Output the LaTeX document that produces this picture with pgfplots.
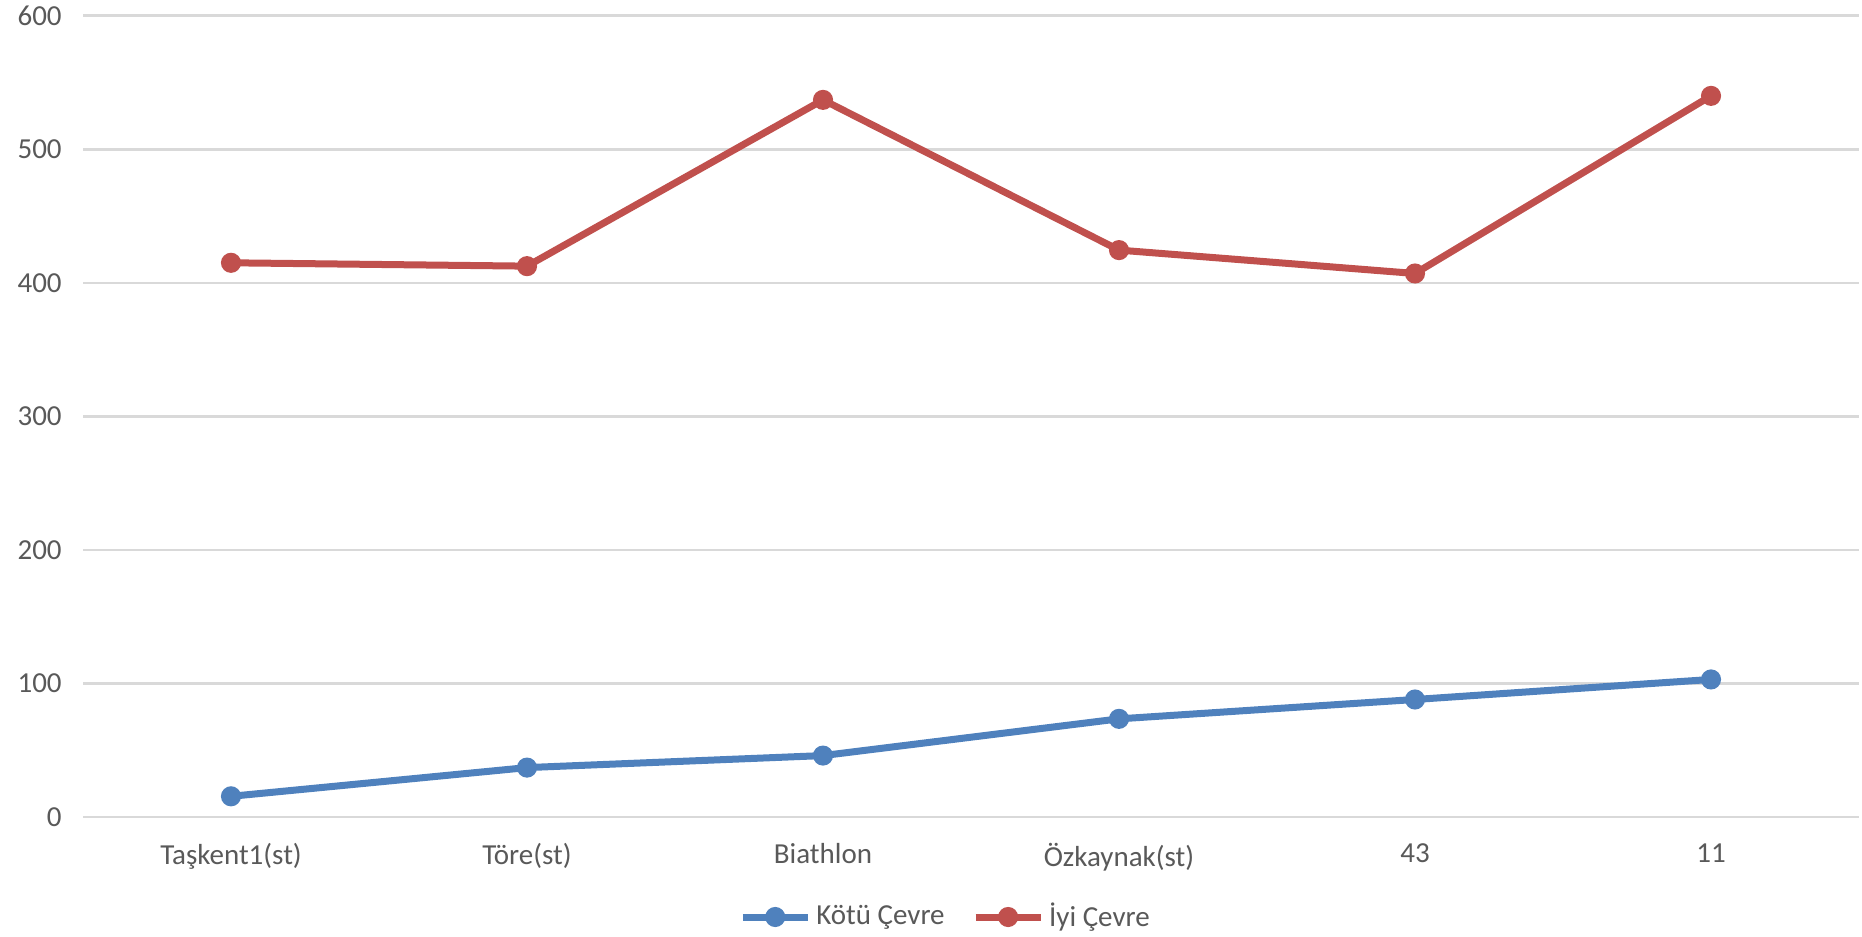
\documentclass[border=0pt]{standalone}
\usepackage{pgfplots}
\pgfplotsset{compat=1.18}
\usepackage{fontspec}
\setmainfont{Carlito}
\definecolor{cblue}{HTML}{4F81BD}
\definecolor{cred}{HTML}{C0504D}
\definecolor{cgrid}{HTML}{D9D9D9}
\definecolor{ctext}{HTML}{595959}
\begin{document}
\begin{tikzpicture}
\begin{axis}[
  name=ax,
  scale only axis,
  width=710.4pt, height=320.5pt,
  xmin=-0.5, xmax=5.5, ymin=0, ymax=600,
  xtick={0,1,2,3,4,5},
  xticklabels={Taşkent1(st),Töre(st),Biathlon,Özkaynak(st),43,11},
  ytick={0,100,200,300,400,500,600},
  ymajorgrids, grid style={cgrid, line width=1pt},
  axis line style={draw=none},
  axis x line*=bottom,
  x axis line style={cgrid, line width=1pt},
  major tick length=0pt,
  tick label style={font=\fontsize{11.6}{13}\selectfont, text=ctext},
  /pgf/number format/assume math mode=true,
  yticklabel style={xshift=-5pt},
  xticklabel style={yshift=-7pt},
  legend style={at={(0.4865,-0.1248)}, anchor=center, draw=none, legend columns=2,
    font=\fontsize{11.6}{13}\selectfont, text=ctext,
    /tikz/every even column/.append style={column sep=9pt}},
  legend cell align=left,
  legend image code/.code={\draw[mark repeat=2, mark phase=2, #1] plot coordinates {(0pt,0pt) (13pt,0pt) (26pt,0pt)};},
]
\addplot[cblue, line width=2.8pt, mark=*, mark size=2.6pt, mark options={solid}] coordinates {
(0,15.5) (1,37) (2,46) (3,73.5) (4,88) (5,103)};
\addlegendentry{Kötü Çevre}
\addplot[cred, line width=2.8pt, mark=*, mark size=2.6pt, mark options={solid}] coordinates {
(0,415) (1,412.5) (2,537) (3,424.5) (4,407) (5,540)};
\addlegendentry{İyi Çevre}
\end{axis}
\pgfresetboundingbox
\path[use as bounding box] ([shift={(-33.2pt,-47.6pt)}]ax.south west) rectangle ([shift={(1.2pt,6.3pt)}]ax.north east);
\end{tikzpicture}
\end{document}
